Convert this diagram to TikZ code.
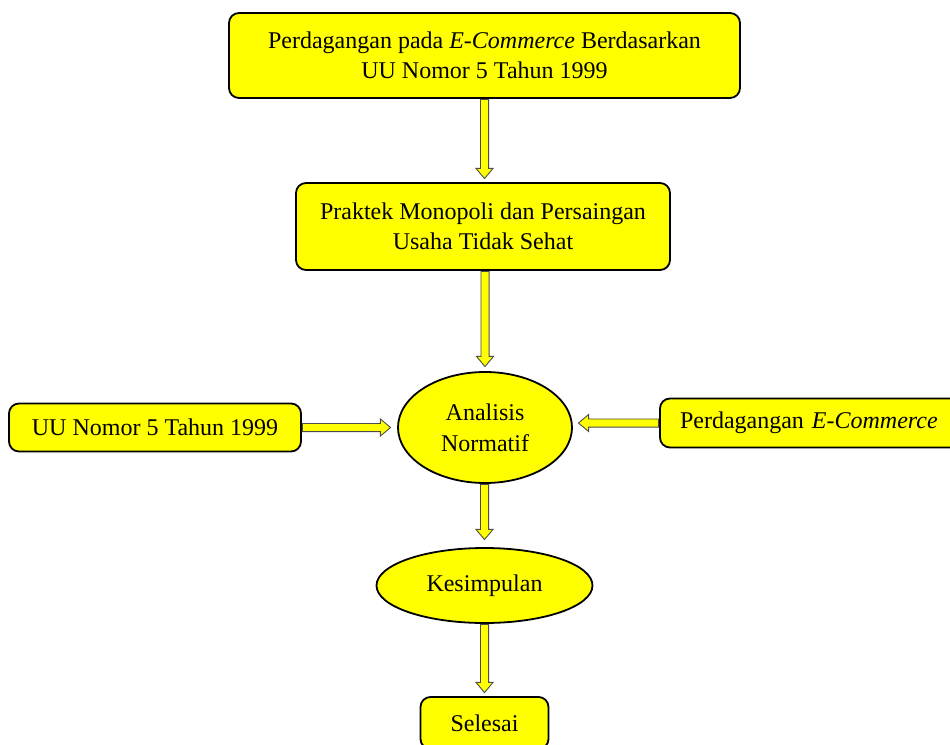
\documentclass[tikz,border=0pt]{standalone}
\usepackage{fontspec}
\setmainfont{Liberation Serif}
\usetikzlibrary{shapes.geometric,shapes.arrows,calc}
\definecolor{boxyellow}{RGB}{255,255,0}
\begin{document}
\begin{tikzpicture}[x=1pt,y=1pt,
  box/.style={draw=black, line width=1.8pt, fill=boxyellow, rounded corners=10pt, align=center, inner sep=0pt, font=\fontsize{24}{30}\selectfont},
  oval/.style={ellipse, draw=black, line width=1.8pt, fill=boxyellow, align=center, inner sep=0pt, font=\fontsize{24}{31}\selectfont},
  barrow/.style={single arrow, draw=black!70, line width=0.9pt, fill=boxyellow, inner xsep=0pt, inner ysep=3.6pt, single arrow head extend=4.5pt, single arrow tip angle=80, sloped, allow upside down, anchor=tail, pos=0}
]
\clip (0,0) rectangle (950,-744);
\fill[white] (0,0) rectangle (950,-744);

\node[box, minimum width=511pt, minimum height=85pt] (top) at (484.5,-55.5)
  {Perdagangan pada \textit{E-Commerce} Berdasarkan\\UU Nomor 5 Tahun 1999};
\node[box, minimum width=374pt, minimum height=87pt] (prak) at (483,-226.5)
  {Praktek Monopoli dan Persaingan\\Usaha Tidak Sehat};
\node[oval, minimum width=174pt, minimum height=111pt] (ana) at (485,-427.5)
  {Analisis\\Normatif};
\node[box, minimum width=292pt, minimum height=48pt] (uu) at (155,-427.5)
  {UU Nomor 5 Tahun 1999};
\node[box, minimum width=300pt, minimum height=49pt, text width=260pt, align=left] (ecom) at (810,-423)
  {Perdagangan \textit{E-Commerce}};
\node[oval, minimum width=216pt, minimum height=75pt] (kes) at (484.5,-585.5)
  {Kesimpulan};
\node[box, minimum width=128pt, minimum height=52pt] (sel) at (484.5,-723)
  {Selesai};

\path let \p1=(top.south), \p2=(top.south |- prak.north), \n1={veclen(\x2-\x1,\y2-\y1)-4pt} in
  (\p1) -- (\p2) node[barrow, minimum height=\n1]{};
\path let \p1=(ana.north |- prak.south), \p2=(ana.north), \n1={veclen(\x2-\x1,\y2-\y1)-5pt} in
  (\p1) -- (\p2) node[barrow, minimum height=\n1]{};
\path let \p1=(uu.east), \p2=(ana.west), \n1={veclen(\x2-\x1,\y2-\y1)-7pt} in
  (\p1) -- (\p2) node[barrow, minimum height=\n1]{};
\path let \p1=(ecom.west), \p2=(ana.east |- ecom.west), \n1={veclen(\x2-\x1,\y2-\y1)-6pt} in
  (\p1) -- (\p2) node[barrow, minimum height=\n1]{};
\path let \p1=(kes.north |- ana.south), \p2=(kes.north), \n1={veclen(\x2-\x1,\y2-\y1)-8pt} in
  (\p1) -- (\p2) node[barrow, minimum height=\n1]{};
\path let \p1=(kes.south), \p2=(sel.north), \n1={veclen(\x2-\x1,\y2-\y1)-4pt} in
  (\p1) -- (\p2) node[barrow, minimum height=\n1]{};
\end{tikzpicture}
\end{document}
